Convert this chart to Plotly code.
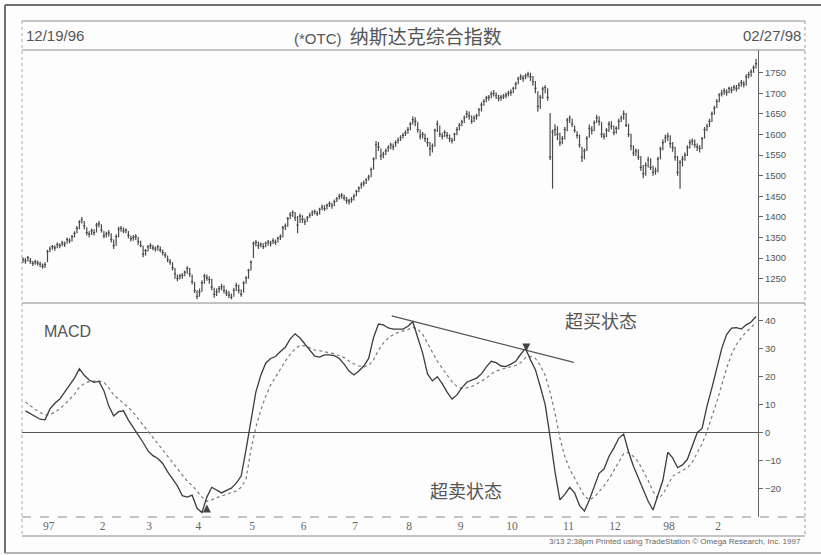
import plotly.graph_objects as go

W, H = 821, 555

# ---------------- data ----------------
# daily bars, trading-day position 0 = 12/19/96 ... 299 = 02/27/98
closes = [
    1296, 1293, 1301, 1292, 1287, 1291, 1288, 1285, 1280, 1284,
    1316, 1322, 1328, 1325, 1333, 1330, 1337, 1334, 1345, 1342,
    1352, 1360, 1372, 1388, 1393, 1378, 1362, 1358, 1366, 1362,
    1380, 1383, 1368, 1354, 1358, 1361, 1346, 1330, 1352, 1370,
    1372, 1366, 1368, 1355, 1347, 1350, 1352, 1340, 1330, 1309,
    1318, 1327, 1330, 1325, 1322, 1327, 1320, 1314, 1308, 1296,
    1290, 1277, 1262, 1251, 1256, 1258, 1266, 1275, 1262, 1243,
    1221, 1207, 1218, 1240, 1256, 1252, 1248, 1230, 1212, 1218,
    1226, 1230, 1221, 1215, 1210, 1205, 1222, 1233, 1222, 1212,
    1240, 1252, 1270, 1290, 1335, 1338, 1330, 1334, 1328, 1336,
    1339, 1336, 1342, 1338, 1348, 1352, 1374, 1378, 1396, 1405,
    1410, 1398, 1380, 1402, 1394, 1388, 1398, 1404, 1410, 1413,
    1408, 1418, 1424, 1420, 1428, 1432, 1427, 1437, 1444, 1450,
    1452, 1446, 1440, 1438, 1442, 1450, 1462, 1470, 1478, 1482,
    1490, 1496, 1515, 1540, 1575, 1570, 1548, 1552, 1560, 1568,
    1574, 1570, 1580, 1586, 1592, 1598, 1604, 1612, 1625, 1636,
    1632, 1612, 1596, 1600, 1590, 1580, 1565, 1572, 1610, 1625,
    1600, 1596, 1605, 1598, 1590, 1585, 1600, 1612, 1622, 1630,
    1640, 1650, 1645, 1632, 1640, 1645, 1660, 1672, 1680, 1688,
    1690, 1698, 1700, 1694, 1688, 1690, 1693, 1696, 1700, 1702,
    1712, 1722, 1735, 1740, 1736, 1742, 1746, 1740, 1728, 1712,
    1668, 1690, 1710, 1714, 1690, 1545, 1606, 1612, 1600, 1580,
    1590, 1612, 1635, 1640, 1625, 1610, 1598, 1575, 1545, 1560,
    1590, 1615, 1610, 1628, 1640, 1632, 1600, 1596, 1610, 1625,
    1620, 1605, 1615, 1632, 1640, 1650, 1622, 1600, 1572, 1555,
    1560, 1545, 1520, 1505, 1525, 1538, 1520, 1508, 1512, 1540,
    1565, 1580, 1592, 1596, 1578, 1568, 1545, 1508, 1532, 1540,
    1550, 1568, 1580, 1584, 1575, 1570, 1566, 1590, 1612, 1620,
    1632, 1650, 1664, 1680, 1696, 1700, 1706, 1702, 1712, 1708,
    1715, 1712, 1720, 1726, 1722, 1740, 1745, 1752, 1762, 1772,
]
highs = [
    1302, 1300, 1305, 1300, 1293, 1296, 1294, 1291, 1287, 1290,
    1320, 1328, 1332, 1331, 1338, 1336, 1342, 1340, 1350, 1348,
    1356, 1365, 1378, 1392, 1400, 1390, 1375, 1365, 1372, 1370,
    1386, 1390, 1382, 1366, 1364, 1368, 1360, 1345, 1358, 1376,
    1378, 1374, 1372, 1366, 1354, 1356, 1358, 1352, 1342, 1330,
    1322, 1332, 1336, 1332, 1328, 1332, 1328, 1320, 1314, 1306,
    1298, 1290, 1276, 1260, 1262, 1264, 1270, 1280, 1276, 1260,
    1242, 1222, 1226, 1246, 1262, 1260, 1256, 1250, 1228, 1226,
    1232, 1238, 1234, 1224, 1220, 1214, 1228, 1240, 1236, 1224,
    1244, 1256, 1274, 1294, 1340, 1344, 1340, 1338, 1336, 1340,
    1344, 1342, 1348, 1345, 1352, 1358, 1378, 1384, 1400, 1412,
    1416, 1412, 1402, 1408, 1404, 1396, 1402, 1410, 1416, 1418,
    1414, 1422, 1430, 1428, 1432, 1438, 1434, 1442, 1448, 1456,
    1458, 1454, 1448, 1444, 1448, 1456, 1466, 1474, 1484, 1488,
    1494, 1502, 1520, 1545, 1584, 1582, 1566, 1558, 1566, 1574,
    1580, 1578, 1586, 1592, 1598, 1604, 1610, 1618, 1630, 1644,
    1642, 1630, 1612, 1606, 1602, 1592, 1582, 1578, 1614, 1634,
    1622, 1604, 1610, 1606, 1600, 1592, 1604, 1618, 1628, 1636,
    1646, 1658, 1656, 1646, 1646, 1650, 1664, 1678, 1686, 1694,
    1696, 1704, 1708, 1702, 1696, 1696, 1698, 1702, 1706, 1710,
    1716, 1728, 1740, 1746, 1744, 1748, 1752, 1750, 1742, 1730,
    1705, 1696, 1716, 1720, 1712, 1652, 1612, 1625, 1620, 1604,
    1596, 1618, 1640, 1646, 1638, 1622, 1608, 1600, 1570, 1566,
    1596, 1624, 1620, 1634, 1648, 1644, 1630, 1604, 1616, 1632,
    1632, 1622, 1620, 1638, 1646, 1658, 1652, 1626, 1602, 1574,
    1566, 1564, 1548, 1526, 1532, 1546, 1542, 1524, 1520, 1546,
    1570, 1588, 1600, 1604, 1598, 1582, 1570, 1548, 1538, 1548,
    1556, 1574, 1588, 1590, 1588, 1578, 1574, 1594, 1618, 1626,
    1638, 1656, 1670, 1686, 1700, 1708, 1712, 1710, 1716, 1716,
    1720, 1720, 1726, 1732, 1730, 1746, 1752, 1758, 1768, 1784,
]
lows = [
    1288, 1286, 1292, 1286, 1281, 1284, 1282, 1278, 1274, 1276,
    1290, 1314, 1320, 1318, 1324, 1324, 1329, 1327, 1335, 1336,
    1340, 1350, 1360, 1370, 1384, 1370, 1355, 1350, 1356, 1355,
    1362, 1374, 1362, 1348, 1350, 1352, 1338, 1322, 1330, 1350,
    1364, 1360, 1360, 1348, 1340, 1342, 1344, 1332, 1326, 1302,
    1306, 1316, 1322, 1319, 1316, 1318, 1314, 1306, 1300, 1290,
    1284, 1270, 1250, 1244, 1248, 1250, 1256, 1262, 1254, 1236,
    1215, 1200, 1206, 1218, 1238, 1245, 1238, 1222, 1204, 1208,
    1216, 1222, 1214, 1208, 1203, 1200, 1206, 1220, 1214, 1206,
    1216, 1238, 1250, 1270, 1300, 1328, 1322, 1326, 1322, 1326,
    1330, 1328, 1334, 1332, 1338, 1344, 1350, 1368, 1376, 1394,
    1400, 1390, 1360, 1385, 1386, 1380, 1388, 1398, 1402, 1406,
    1402, 1406, 1416, 1414, 1418, 1424, 1420, 1426, 1436, 1442,
    1444, 1440, 1432, 1430, 1434, 1440, 1450, 1460, 1468, 1474,
    1480, 1488, 1496, 1515, 1540, 1560, 1538, 1542, 1550, 1558,
    1564, 1562, 1570, 1578, 1584, 1590, 1596, 1602, 1610, 1624,
    1620, 1604, 1588, 1590, 1582, 1570, 1548, 1556, 1570, 1606,
    1594, 1588, 1594, 1590, 1582, 1578, 1584, 1598, 1610, 1620,
    1628, 1640, 1636, 1626, 1630, 1636, 1644, 1656, 1670, 1678,
    1682, 1688, 1692, 1686, 1680, 1682, 1686, 1688, 1692, 1694,
    1700, 1710, 1722, 1732, 1728, 1734, 1738, 1730, 1718, 1700,
    1655, 1662, 1686, 1700, 1682, 1538, 1468, 1596, 1586, 1572,
    1576, 1588, 1608, 1628, 1618, 1604, 1590, 1568, 1533, 1540,
    1560, 1592, 1600, 1608, 1628, 1622, 1592, 1588, 1594, 1606,
    1612, 1598, 1602, 1612, 1630, 1636, 1618, 1594, 1562, 1548,
    1548, 1538, 1512, 1494, 1500, 1520, 1514, 1500, 1502, 1508,
    1540, 1562, 1580, 1584, 1568, 1558, 1536, 1500, 1468, 1522,
    1536, 1548, 1566, 1574, 1568, 1560, 1556, 1564, 1590, 1608,
    1618, 1630, 1648, 1664, 1678, 1692, 1696, 1694, 1700, 1700,
    1706, 1704, 1710, 1716, 1714, 1718, 1736, 1740, 1750, 1760,
]

# MACD and its signal, read every second trading day (positions 1, 3, ..., 299)
macd_x = list(range(1, 300, 2))
macd_vals = [
    7.8, 6.8, 5.8, 4.8, 4.6, 8.5, 10.5, 12.0, 14.5, 16.8,
    19.5, 22.8, 20.5, 18.8, 18.0, 18.3, 15.0, 9.5, 6.0, 7.5,
    7.8, 4.5, 1.8, -0.5, -3.5, -6.5, -8.2, -9.2, -11.0, -14.0,
    -16.5, -19.0, -22.5, -23.0, -22.3, -27.0, -28.5, -23.0, -19.5, -20.5,
    -21.5, -20.6, -19.8, -18.0, -15.5, -6.0, 5.0, 14.6, 20.5, 24.8,
    26.5, 27.2, 29.0, 30.5, 33.5, 35.3, 33.8, 31.5, 29.5, 27.3,
    27.0, 27.8, 27.8, 27.5, 26.5, 24.5, 22.0, 20.6, 22.0, 23.8,
    26.5, 34.0, 38.8, 38.5, 37.4, 37.0, 37.0, 37.0, 38.0, 39.6,
    34.0, 28.5, 21.0, 18.5, 20.0, 17.5, 14.5, 12.0, 13.5, 16.0,
    18.0, 18.8, 19.5, 21.0, 23.5, 25.5, 25.0, 23.8, 23.6, 24.5,
    25.5, 28.0, 30.1, 26.0, 22.5, 16.5, 10.0, -1.5, -14.0, -24.0,
    -22.0, -19.5, -21.5, -26.0, -28.0, -24.0, -19.0, -14.5, -13.0, -8.5,
    -5.5, -2.0, -0.5, -6.8, -12.0, -16.3, -20.0, -24.5, -27.6, -22.0,
    -17.0, -7.0, -9.0, -12.5, -11.5, -9.5, -5.0, 0.0, 1.5, 9.5,
    16.0, 23.5, 30.0, 35.0, 37.3, 37.5, 37.0, 38.5, 39.5, 41.5,
]
signal_vals = [
    11.0, 9.5, 8.3, 7.2, 6.3, 6.5, 7.3, 8.5, 10.0, 11.8,
    13.8, 16.2, 17.5, 18.2, 18.4, 18.5, 18.0, 16.0, 13.5, 12.0,
    10.8, 9.0, 7.2, 5.0, 2.8, 0.5, -1.8, -4.0, -6.0, -8.2,
    -10.5, -12.8, -15.2, -17.3, -18.8, -20.8, -23.0, -24.5, -24.0, -23.2,
    -22.5, -22.0, -21.4, -20.8, -19.5, -16.5, -6.0, 2.0, 8.0, 13.0,
    17.0, 20.0, 23.0, 25.5, 28.0, 30.0, 31.2, 31.0, 30.3, 29.5,
    29.3, 28.8, 28.5, 28.2, 27.6, 26.8, 25.6, 24.5, 23.8, 23.5,
    24.0, 26.0, 29.5, 32.0, 33.8, 35.0, 35.8, 36.3, 36.8, 37.6,
    37.0, 35.2, 32.0, 28.5, 25.5, 23.0, 20.5, 18.2, 16.5, 15.8,
    16.0, 16.5, 17.3, 18.3, 19.5, 21.0, 22.0, 22.6, 23.0, 23.5,
    24.0, 25.0, 26.8, 27.2, 26.5, 24.0, 20.5, 14.5, 7.0, -2.0,
    -8.5, -13.0, -16.5, -19.5, -22.5, -24.0, -23.0, -21.0, -19.0, -16.5,
    -13.5, -10.5, -7.5, -7.0, -8.5, -10.5, -13.5, -17.0, -21.0, -23.5,
    -22.0, -18.5, -15.5, -14.5, -13.5, -12.5, -10.5, -7.5, -4.0, 0.5,
    5.5, 11.0, 17.0, 23.0, 28.0, 31.5, 34.0, 36.0, 37.5, 39.5,
]

# month labels and the trading-day position where each month starts
month_labels = ["97", "2", "3", "4", "5", "6", "7", "8", "9", "10", "11", "12", "98", "2"]
month_start_pos = [8, 30, 49, 69, 91, 112, 133, 155, 176, 197, 220, 239, 261, 281]

price_ticks = [1250, 1300, 1350, 1400, 1450, 1500, 1550, 1600, 1650, 1700, 1750]
macd_ticks = [-20, -10, 0, 10, 20, 30, 40]

# hand-drawn MACD trendline (position, value)
trend_pos = [150.4, 224.7]
trend_val = [41.7, 25.1]

# ---------------- figure ----------------
pos = list(range(len(closes)))
LATIN = "Liberation Sans, Arial, sans-serif"
CJK = "Noto Sans CJK SC, sans-serif"


def fx(p):
    return p / W


def fy(p):
    return 1 - p / H


fig = go.Figure()

fig.add_trace(go.Ohlc(
    x=pos, open=closes, high=highs, low=lows, close=closes,
    increasing=dict(line=dict(color="#4a4a4a", width=1.2)),
    decreasing=dict(line=dict(color="#4a4a4a", width=1.2)),
    tickwidth=0.45, xaxis="x", yaxis="y", showlegend=False, hoverinfo="skip",
))

fig.add_trace(go.Scatter(
    x=macd_x, y=signal_vals, mode="lines",
    line=dict(color="#7a7a7a", width=1.2, dash="dot"),
    xaxis="x2", yaxis="y2", showlegend=False, hoverinfo="skip",
))
fig.add_trace(go.Scatter(
    x=macd_x, y=macd_vals, mode="lines",
    line=dict(color="#3c3c3c", width=1.3),
    xaxis="x2", yaxis="y2", showlegend=False, hoverinfo="skip",
))
fig.add_trace(go.Scatter(
    x=trend_pos, y=trend_val, mode="lines",
    line=dict(color="#555555", width=1.3),
    xaxis="x2", yaxis="y2", showlegend=False, hoverinfo="skip",
))

xr = [-0.4, 299.8]
xdom = [fx(22), fx(758)]
fig.update_layout(
    width=W, height=H, autosize=False,
    margin=dict(l=0, r=0, t=0, b=0),
    paper_bgcolor="#fdfdfd", plot_bgcolor="rgba(0,0,0,0)",
    xaxis=dict(domain=xdom, range=xr, anchor="y", showticklabels=False,
               showgrid=False, zeroline=False, showline=False,
               rangeslider=dict(visible=False)),
    yaxis=dict(domain=[fy(303), fy(50)], range=[1191, 1805], side="right",
               tickvals=price_ticks, ticks="outside", ticklen=4, tickcolor="#666",
               showline=True, linecolor="#666", linewidth=1, showgrid=False,
               zeroline=False, tickfont=dict(family=LATIN, size=9.5, color="#555")),
    xaxis2=dict(domain=xdom, range=xr, anchor="y2", showgrid=False, zeroline=False,
                showline=False, tickvals=[p + 2.5 for p in month_start_pos],
                ticktext=month_labels, ticks="",
                tickfont=dict(family="Liberation Serif, serif", size=11.5, color="#666")),
    yaxis2=dict(domain=[fy(517), fy(303)], range=[-30.1, 46.3], side="right",
                tickvals=macd_ticks, ticks="outside", ticklen=4, tickcolor="#666",
                showline=True, linecolor="#666", linewidth=1, showgrid=False,
                zeroline=True, zerolinecolor="#555", zerolinewidth=1.2,
                tickfont=dict(family=LATIN, size=9.5, color="#555")),
)

line_col = "#8a8a8a"


def pline(x0, y0, x1, y1, color=line_col, width=1, dash="solid"):
    return dict(type="line", xref="paper", yref="paper",
                x0=fx(x0), x1=fx(x1), y0=fy(y0), y1=fy(y1),
                line=dict(color=color, width=width, dash=dash))


shapes = [
    # outer scanned frame
    pline(5, 5, 5, 553, "#6e6e6e", 2),
    pline(5, 5, 821, 5, "#6e6e6e", 2),
    pline(5, 553, 821, 553, "#9a9a9a", 1.5),
    # inner chart box
    pline(22, 21, 805, 21),
    pline(22, 50, 805, 50),
    pline(22, 303, 805, 303),
    pline(22, 517, 805, 517, dash="dash"),
    pline(22, 536, 805, 536),
    pline(22, 21, 22, 536, "#aaaaaa", 1, "dot"),
    pline(805, 21, 805, 536, "#999999", 1, "dot"),
]
fig.update_layout(shapes=shapes)


def ptext(x, y, text, size, family=LATIN, anchor="left", color="#555"):
    return dict(x=fx(x), y=fy(y), xref="paper", yref="paper", text=text,
                showarrow=False, xanchor=anchor, yanchor="middle",
                font=dict(family=family, size=size, color=color))


ann = [
    ptext(24, 35.5, "12/19/96", 15),
    ptext(803, 35.5, "02/27/98", 15, anchor="right"),
    ptext(292, 35.5,
          "(*OTC)  <span style='font-family:Noto Sans CJK SC;font-size:19px'>纳斯达克综合指数</span>", 15),
    ptext(42, 331, "MACD", 16),
    ptext(601, 320, "超买状态", 18, family=CJK, anchor="center"),
    ptext(466, 490, "超卖状态", 18, family=CJK, anchor="center"),
    ptext(803, 541, "3/13 2:38pm Printed using TradeStation © Omega Research, Inc. 1997",
          8, anchor="right", color="#666"),
    # small arrows marking the MACD turning points
    dict(x=75, y=-25.6, xref="x2", yref="y2", ax=0, ay=9, text="", showarrow=True,
         arrowhead=2, arrowsize=1, arrowwidth=1.6, arrowcolor="#444"),
    dict(x=205.3, y=29.0, xref="x2", yref="y2", ax=0, ay=-9, text="", showarrow=True,
         arrowhead=2, arrowsize=1, arrowwidth=1.6, arrowcolor="#444"),
]
fig.update_layout(annotations=ann)

fig.write_html(
    "out.html",
    config={"displayModeBar": False, "staticPlot": True},
    post_script="document.body.style.margin='0';document.body.style.padding='0';"
                "document.body.style.overflow='hidden';",
)
